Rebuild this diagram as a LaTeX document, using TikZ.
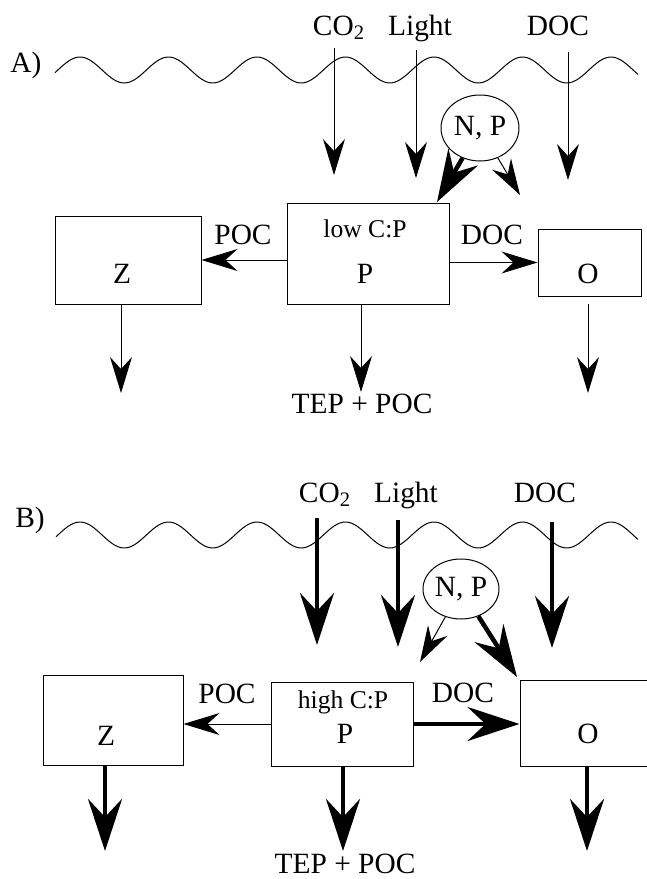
\documentclass[tikz,border=0pt]{standalone}
\usepackage{fontspec}
\setmainfont{Liberation Serif}
\usetikzlibrary{arrows.meta,shapes.geometric}

\begin{document}
\begin{tikzpicture}[
  x=0.5pt, y=-0.5pt,
  every node/.style={font=\fontsize{14.7}{17}\selectfont, inner sep=0pt},
  lbl/.style={anchor=base},
  ratio/.style={anchor=base, font=\fontsize{12.8}{15}\selectfont},
  box/.style={draw, line width=0.5pt},
  nutr/.style={draw, line width=0.5pt, ellipse},
  wave/.style={line width=0.5pt},
  arr/.style={line width=0.5pt, -{Stealth[length=18pt, width=11pt, inset=6pt]}},
  arrbig/.style={line width=2.25pt, -{Stealth[length=26pt, width=17pt, inset=9pt]}}
]
  \useasboundingbox (0,0) rectangle (647,879);

  % ---------- A) low C:P ----------
  \node[lbl] (tagA) at (26,72) {A)};
  \draw[wave] plot[domain=55:638, samples=200] (\x, {70-13*cos(((\x-80)/88.5)*360)});
  \node[lbl] (co2A) at (339,35) {CO\textsubscript{2}};
  \node[lbl] (lightA) at (420,35) {Light};
  \node[lbl] (docinA) at (558,35) {DOC};

  \node[box, minimum width=73pt, minimum height=44pt] (zA) at (128,260) {};
  \node[box, minimum width=81pt, minimum height=50.5pt] (pA) at (368,253.5) {};
  \node[box, minimum width=51.5pt, minimum height=33.5pt] (oA) at (589.5,262.5) {};
  \node[nutr, minimum width=39pt, minimum height=33pt] (npA) at (480,128) {N, P};
  \node[ratio] (cpA) at (365,237) {low C:P};
  \node[lbl] at (365,283) {P};
  \node[lbl] at (122,283) {Z};
  \node[lbl] at (588,283) {O};
  \node[lbl] (pocA) at (243,244) {POC};
  \node[lbl] (docA) at (492,244) {DOC};
  \node[lbl] (tepA) at (362,413) {TEP + POC};

  \coordinate (co2Ain) at (334,48);   \coordinate (co2Aout) at (334,175);
  \coordinate (lightAin) at (416,50); \coordinate (lightAout) at (416,178);
  \coordinate (docAin) at (568,52);   \coordinate (docAout) at (568,180);
  \coordinate (npAtoP) at (437,202);  \coordinate (npAtoO) at (520,195);
  \coordinate (zAsink) at (121,393);  \coordinate (pAsink) at (361,392);
  \coordinate (oAtop) at (588,304);   \coordinate (oAsink) at (588,393);

  \draw[arr] (co2Ain) -- (co2Aout);
  \draw[arr] (lightAin) -- (lightAout);
  \draw[arr] (docAin) -- (docAout);
  \draw[arrbig] (npA) -- (npAtoP);
  \draw[arr] (npA) -- (npAtoO);
  \draw[arr] (pA.west |- zA.east) -- (zA.east);
  \draw[arr] (pA.east |- oA.west) -- (oA.west);
  \draw[arr] (zA.south -| zAsink) -- (zAsink);
  \draw[arr] (pA.south -| pAsink) -- (pAsink);
  \draw[arr] (oAtop) -- (oAsink);

  % ---------- B) high C:P ----------
  \node[lbl] (tagB) at (30,527) {B)};
  \draw[wave] plot[domain=56:638, samples=200] (\x, {535-13*cos(((\x-80)/88.5)*360)});
  \node[lbl] (co2B) at (325,502) {CO\textsubscript{2}};
  \node[lbl] (lightB) at (406,502) {Light};
  \node[lbl] (docinB) at (545,502) {DOC};

  \node[box, minimum width=70pt, minimum height=45pt] (zB) at (113,720) {};
  \node[box, minimum width=71pt, minimum height=42pt] (pB) at (342,724) {};
  \node[box, minimum width=66pt, minimum height=43pt] (oB) at (586,723) {};
  \node[nutr, minimum width=38pt, minimum height=30pt] (npB) at (461,589) {N, P};
  \node[ratio] (cpB) at (343,708) {high C:P};
  \node[lbl] at (345,743) {P};
  \node[lbl] at (106,745) {Z};
  \node[lbl] at (588,743) {O};
  \node[lbl] (pocB) at (227,703) {POC};
  \node[lbl] (docB) at (463,702) {DOC};
  \node[lbl] (tepB) at (345,873) {TEP + POC};

  \coordinate (co2Bin) at (317,518);   \coordinate (co2Bout) at (317,645);
  \coordinate (lightBin) at (398,520); \coordinate (lightBout) at (398,647);
  \coordinate (docBin) at (552,522);   \coordinate (docBout) at (552,648);
  \coordinate (npBtoP) at (420,662);   \coordinate (npBtoO) at (517,677);
  \coordinate (zBsink) at (105,851);   \coordinate (pBsink) at (343,851);
  \coordinate (oBsink) at (587,851);

  \draw[arrbig] (co2Bin) -- (co2Bout);
  \draw[arrbig] (lightBin) -- (lightBout);
  \draw[arrbig] (docBin) -- (docBout);
  \draw[arr] (npB) -- (npBtoP);
  \draw[arrbig] (npB) -- (npBtoO);
  \draw[arr] (pB.west) -- (pB.west -| zB.east);
  \draw[arrbig] (pB.east) -- (pB.east -| oB.west);
  \draw[arrbig] (zB.south -| zBsink) -- (zBsink);
  \draw[arrbig] (pB.south -| pBsink) -- (pBsink);
  \draw[arrbig] (oB.south -| oBsink) -- (oBsink);
\end{tikzpicture}
\end{document}
